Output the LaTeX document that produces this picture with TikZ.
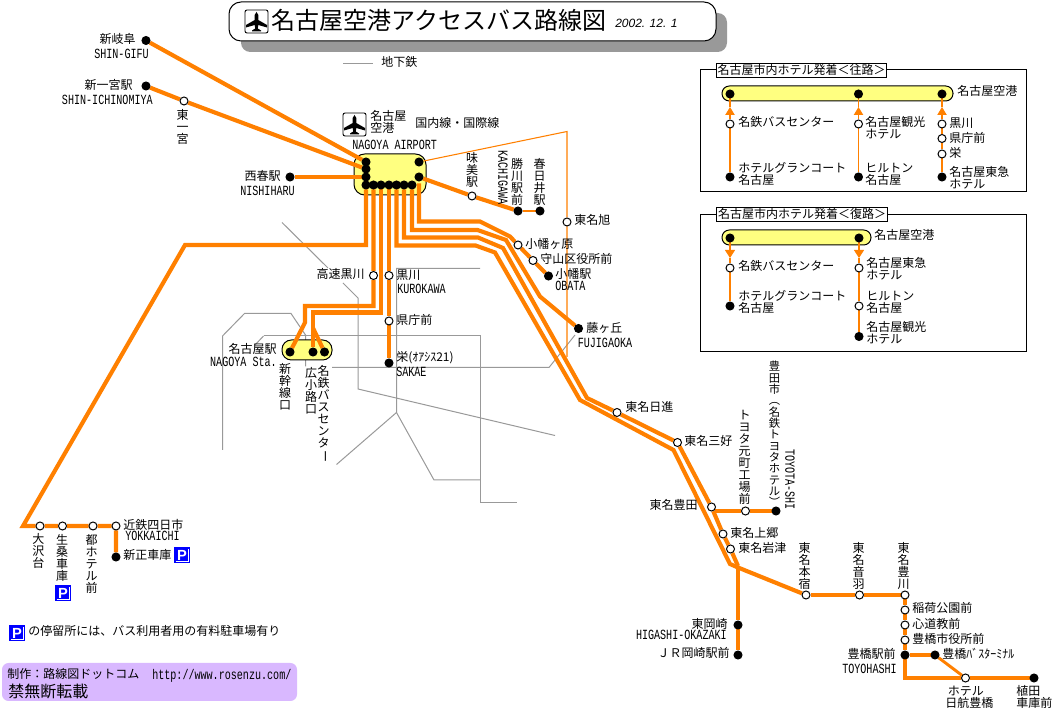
\documentclass[tikz,border=0pt]{standalone}
\usepackage{fontspec}
\setmainfont{Noto Sans CJK JP}
\setmonofont[FakeStretch=0.72]{Liberation Mono}
\newfontfamily\latinface{Liberation Sans}
\usetikzlibrary{arrows.meta,backgrounds}
\definecolor{busorange}{HTML}{FF8000}
\definecolor{padyellow}{HTML}{FFFF80}
\definecolor{subwaygray}{HTML}{999999}
\definecolor{creditpurple}{HTML}{D9B8FF}
\newcommand{\longbar}{\rotatebox[origin=c]{-90}{ー}}
\tikzset{
  stopw/.style={circle,draw=black,fill=white,line width=0.75pt,minimum size=6pt,inner sep=0pt},
  stopb/.style={circle,draw=black,fill=black,line width=0.75pt,minimum size=6pt,inner sep=0pt},
  busline/.style={draw=busorange,line width=3.1pt},
  midline/.style={draw=busorange,line width=2.2pt},
  thinline/.style={draw=busorange,line width=0.8pt},
  subway/.style={draw=subwaygray,line width=0.75pt},
  pad/.style={draw=black,fill=padyellow,line width=0.75pt,rounded corners=5.5pt},
  jp/.style={inner sep=0pt,anchor=west,text height=7.9pt,text depth=1.1pt},
  jpr/.style={jp,anchor=east},
  jptwo/.style={inner sep=0pt,anchor=west,align=left},
  en/.style={inner sep=0pt,anchor=west,font=\ttfamily\fontsize{10.5pt}{10.5pt}\selectfont,text height=6.9pt,text depth=0pt},
  enr/.style={en,anchor=east},
  vjp/.style={inner sep=0pt,anchor=north,align=center},
  panelhead/.style={draw=black,fill=white,line width=0.75pt,inner xsep=1pt,inner ysep=0pt,text height=8.4pt,text depth=2.4pt},
  parkmark/.style={fill=blue,text=white,inner sep=0pt,minimum size=11.6pt,font=\latinface\bfseries\fontsize{11pt}{11pt}\selectfont,
    path picture={\draw[white,line width=0.4pt] ([xshift=1pt,yshift=1pt]path picture bounding box.south west) -| ([xshift=-1pt,yshift=-1pt]path picture bounding box.north east);}},
  planeicon/.pic={
    \draw[black,line width=0.7pt,fill=white,rounded corners=1.5pt] (0,0) rectangle (23,23);
    \fill[black] (11.5,2) -- (13.3,5) -- (13.3,10) -- (22,15) -- (22,17.5) -- (13.3,15) -- (12.8,18.5) -- (16,20.5) -- (16,21.5)
      -- (7,21.5) -- (7,20.5) -- (10.2,18.5) -- (9.7,15) -- (1,17.5) -- (1,15) -- (9.7,10) -- (9.7,5) -- cycle;
  }
}
\begin{document}
\begin{tikzpicture}[x=0.75pt,y=-0.75pt,font=\fontsize{9pt}{9pt}\selectfont]
  \useasboundingbox (0,0) rectangle (1054,712);

  %TITLE
  \fill[subwaygray,rounded corners=7pt] (241,13) rectangle (727,52);
  \draw[fill=white,line width=0.75pt,rounded corners=9pt] (229,2) rectangle (716,41);
  \pic (titleicon) at (245,10) {planeicon};
  \node[jp,font=\fontsize{18pt}{18pt}\selectfont,text height=15.8pt,text depth=2.2pt] (titletext) at (271,20) {名古屋空港アクセスバス路線図};
  \node[inner sep=0pt,anchor=west,font=\latinface\itshape\fontsize{9pt}{9pt}\selectfont] (titledate) at (615,23) {2002. 12. 1};

  %LEGEND
  \node[jp] (subwaylabel) at (381,62) {地下鉄};
  \node[inner sep=0pt,anchor=west] (parkline) at (28,631) {の停留所には、バス利用者用の有料駐車場有り};
  \node[parkmark] (parknote) at (17,633) {P};

  %AIRPORT
  \pic (airporticon) at (343,113) {planeicon};
  \node[jptwo] (airportname) at (370,122) {名古屋\\空港};
  \node[jp] (airportlines) at (415,122.5) {国内線・国際線};
  \node[en] (airporten) at (352,144.5) {NAGOYA AIRPORT};
  \node[stopb] (apa) at (366,162) {};
  \node[stopb] (apb) at (366,169) {};
  \node[stopb] (apc) at (366,177) {};
  \node[stopb] (apd) at (366,185) {};
  \node[stopb] (ape) at (373.5,185) {};
  \node[stopb] (apf) at (381,185) {};
  \node[stopb] (apg) at (389,185) {};
  \node[stopb] (aph) at (396.5,185) {};
  \node[stopb] (api) at (404,185) {};
  \node[stopb] (apj) at (412,185) {};
  \node[stopb] (apk) at (419,162) {};
  \node[stopb] (apl) at (419,177) {};
  \coordinate (apfree) at (419,183.5);

  %NORTH
  \node[stopb] (shingifu) at (146,40.5) {};
  \node[jpr] (shingifujp) at (136,39) {新岐阜};
  \node[enr] (shingifuen) at (149,53.5) {SHIN-GIFU};
  \node[stopb] (shinichi) at (146,86) {};
  \node[jpr] (shinichijp) at (133,84.5) {新一宮駅};
  \node[enr] (shinichien) at (153,99.5) {SHIN-ICHINOMIYA};
  \node[stopw] (higashiichi) at (184,101) {};
  \node[vjp] (higashiichijp) at (182.5,109) {東\\一\\宮};
  \node[stopb] (nishiharu) at (290,177) {};
  \node[jpr] (nishiharujp) at (281,175.5) {西春駅};
  \node[enr] (nishiharuen) at (295,190.5) {NISHIHARU};

  %EAST OF AIRPORT
  \node[stopw] (ajima) at (472,196) {};
  \node[vjp] (ajimajp) at (472,152.5) {味\\美\\駅};
  \node[stopb] (kachigawa) at (518,211) {};
  \node[vjp] (kachigawajp) at (517,158) {勝\\川\\駅\\前};
  \node[en,rotate=-90] (kachigawaen) at (503,150) {KACHIGAWA};
  \node[stopb] (kasugai) at (540,211) {};
  \node[vjp] (kasugaijp) at (539.5,158) {春\\日\\井\\駅};
  \node[stopw] (asahi) at (567,222) {};
  \node[jp] (asahijp) at (574,220) {東名旭};
  \coordinate (asahiend) at (567,357);
  \node[stopw] (haragahara) at (518,245) {};
  \node[jp] (haragaharajp) at (525,243.5) {小幡ヶ原};
  \node[stopw] (moriyama) at (533,260.5) {};
  \node[jp] (moriyamajp) at (540,259) {守山区役所前};
  \node[stopb] (obata) at (548.5,276) {};
  \node[jp] (obatajp) at (555,274) {小幡駅};
  \node[en] (obataen) at (555,286) {OBATA};
  \node[stopb] (fujigaoka) at (578.5,328.5) {};
  \node[jp] (fujigaokajp) at (586,328) {藤ヶ丘};
  \node[en] (fujigaokaen) at (577.5,343) {FUJIGAOKA};

  %CITY CENTRE
  \node[stopw] (kosoku) at (373.5,275.5) {};
  \node[jpr] (kosokujp) at (365,274) {高速黒川};
  \node[stopw] (kurokawa) at (389,275.5) {};
  \node[jp] (kurokawajp) at (396,275) {黒川};
  \node[en] (kurokawaen) at (397,289) {KUROKAWA};
  \node[stopw] (kenchomae) at (389,321) {};
  \node[jp] (kenchomaejp) at (396,320) {県庁前};
  \node[stopb] (sakae) at (389,363) {};
  \node[jp] (sakaejp) at (396,357) {栄(ｵｱｼｽ21)};
  \node[en] (sakaeen) at (396,372) {SAKAE};
  \node[stopb] (shinkansen) at (290,352) {};
  \node[stopb] (hirokoji) at (313,352) {};
  \node[stopb] (meitetsu) at (324.5,352) {};
  \coordinate (hirosplit) at (313,328);
  \node[jpr] (nagoyajp) at (277,349) {名古屋駅};
  \node[enr] (nagoyaen) at (277,362) {NAGOYA Sta.};
  \node[vjp] (shinkansenjp) at (285,363.5) {新\\幹\\線\\口};
  \node[vjp] (hirokojijp) at (311,367.5) {広\\小\\路\\口};
  \node[vjp] (meitetsujp) at (323.5,365) {名\\鉄\\バ\\ス\\セ\\ン\\タ\\\longbar};

  %TOMEI
  \node[stopw] (nisshin) at (617,412.5) {};
  \node[jp] (nisshinjp) at (625,406.5) {東名日進};
  \node[stopw] (miyoshi) at (677.5,442.5) {};
  \node[jp] (miyoshijp) at (684,440.5) {東名三好};
  \node[stopw] (tmtoyota) at (711.5,507) {};
  \node[jpr] (tmtoyotajp) at (698,505) {東名豊田};
  \coordinate (toyotasplit) at (715,511);
  \node[stopw] (motomachi) at (745.5,511) {};
  \node[vjp] (motomachijp) at (744.5,410) {ト\\ヨ\\タ\\元\\町\\工\\場\\前};
  \node[stopb] (toyotashi) at (776,511) {};
  \node[vjp,font=\fontsize{8.5pt}{8.5pt}\selectfont] (toyotashijp) at (774.5,361) {豊\\田\\市\\︵\\名\\鉄\\ト\\ヨ\\タ\\ホ\\テ\\ル\\︶};
  \node[en,rotate=-90] (toyotashien) at (790,449) {TOYOTA-SHI};
  \node[stopw] (kamigo) at (723,534) {};
  \node[jp] (kamigojp) at (730,532.5) {東名上郷};
  \node[stopw] (iwazu) at (730.5,549) {};
  \node[jp] (iwazujp) at (738,548) {東名岩津};
  \coordinate (okazakisplit) at (738,566);
  \node[stopb] (higashiokazaki) at (738,625) {};
  \node[jpr] (higashiokazakijp) at (728,623.5) {東岡崎};
  \node[enr] (higashiokazakien) at (727,635) {HIGASHI-OKAZAKI};
  \node[stopb] (jrokazaki) at (738,655) {};
  \node[jpr] (jrokazakijp) at (730,653) {ＪＲ岡崎駅前};

  %TOYOHASHI
  \node[stopw] (motojuku) at (806,595) {};
  \node[vjp] (motojukujp) at (804.5,542) {東\\名\\本\\宿};
  \node[stopw] (otowa) at (859.5,595) {};
  \node[vjp] (otowajp) at (858.5,542) {東\\名\\音\\羽};
  \node[stopw] (toyokawa) at (905,595) {};
  \node[vjp] (toyokawajp) at (903.5,542) {東\\名\\豊\\川};
  \node[stopw] (inari) at (905,610) {};
  \node[jp] (inarijp) at (912,607.5) {稲荷公園前};
  \node[stopw] (shindo) at (905,625) {};
  \node[jp] (shindojp) at (912,624) {心道教前};
  \node[stopw] (shiyakusho) at (905,640) {};
  \node[jp] (shiyakushojp) at (912,639) {豊橋市役所前};
  \node[stopb] (toyohashi) at (905,655) {};
  \node[jpr] (toyohashijp) at (896,654) {豊橋駅前};
  \node[enr] (toyohashien) at (897,669) {TOYOHASHI};
  \node[stopb] (busterminal) at (935,655) {};
  \node[jp] (busterminaljp) at (942,654) {豊橋ﾊﾞｽﾀｰﾐﾅﾙ};
  \node[stopw] (nikko) at (965.5,678) {};
  \node[jptwo] (nikkojp) at (945,697) {\ ホテル\\日航豊橋};
  \node[stopb] (ueda) at (1034,678) {};
  \node[jptwo] (uedajp) at (1016,696.5) {植田\\車庫前};

  %YOKKAICHI
  \node[stopw] (osawa) at (40,526) {};
  \node[vjp] (osawajp) at (38.5,533) {大\\沢\\台};
  \node[stopw] (ikuwa) at (62.5,526) {};
  \node[vjp] (ikuwajp) at (62,534) {生\\桑\\車\\庫};
  \node[parkmark] (parkikuwa) at (63,593) {P};
  \node[stopw] (miyako) at (93,526) {};
  \node[vjp] (miyakojp) at (91.5,534) {都\\ホ\\テ\\ル\\前};
  \node[stopw] (yokkaichi) at (116,526) {};
  \node[jp] (yokkaichijp) at (123,525) {近鉄四日市};
  \node[en] (yokkaichien) at (125,536) {YOKKAICHI};
  \node[stopb] (shinsho) at (116,557) {};
  \node[jp] (shinshojp) at (123,555) {新正車庫};
  \node[parkmark] (parkshinsho) at (182,555) {P};

  %CREDIT
  \node[jp] (creditjp) at (7,673.5) {制作：路線図ドットコム};
  \node[en] (crediturl) at (152,674.5) {http://www.rosenzu.com/};
  \node[jp,font=\fontsize{12pt}{12pt}\selectfont,text height=10.5pt,text depth=1.5pt] (creditban) at (8,692) {禁無断転載};

  %PANEL OUTWARD
  \node[panelhead] (headout) at (801.5,70.5) {名古屋市内ホテル発着＜往路＞};
  \node[jp] (padoutjp) at (957,91) {名古屋空港};
  \node[stopb] (outa) at (730,94) {};
  \node[stopb] (outb) at (858.5,94) {};
  \node[stopb] (outc) at (942,94) {};
  \coordinate (outtipa) at (730,107);
  \coordinate (outtipb) at (858.5,107);
  \coordinate (outtipc) at (942,107);
  \node[stopw] (outmeitetsu) at (730,124) {};
  \node[jp] (outmeitetsujp) at (738,122) {名鉄バスセンター};
  \node[stopb] (outgrand) at (730,177) {};
  \node[jptwo] (outgrandjp) at (738,174) {ホテルグランコート\\名古屋};
  \node[stopw] (outkanko) at (858.5,124) {};
  \node[jptwo] (outkankojp) at (865,128) {名古屋観光\\ホテル};
  \node[stopb] (outhilton) at (858.5,177) {};
  \node[jptwo] (outhiltonjp) at (865,174) {ヒルトン\\名古屋};
  \node[stopw] (outkurokawa) at (942,124) {};
  \node[jp] (outkurokawajp) at (949,123) {黒川};
  \node[stopw] (outkencho) at (942,138.5) {};
  \node[jp] (outkenchojp) at (949,138) {県庁前};
  \node[stopw] (outsakae) at (942,154) {};
  \node[jp] (outsakaejp) at (949,153) {栄};
  \node[stopb] (outtokyu) at (942,177) {};
  \node[jptwo] (outtokyujp) at (949,178) {名古屋東急\\ホテル};

  %PANEL INWARD
  \node[panelhead] (headin) at (802,214.5) {名古屋市内ホテル発着＜復路＞};
  \node[jp] (padinjp) at (874,235) {名古屋空港};
  \node[stopb] (ina) at (730,238) {};
  \node[stopb] (inb) at (859,238) {};
  \coordinate (intipa) at (730,258);
  \coordinate (intipb) at (859,258);
  \node[stopw] (inmeitetsu) at (730,268) {};
  \node[jp] (inmeitetsujp) at (738,266) {名鉄バスセンター};
  \node[stopb] (ingrand) at (730,306) {};
  \node[jptwo] (ingrandjp) at (738,302) {ホテルグランコート\\名古屋};
  \node[stopw] (intokyu) at (859,268) {};
  \node[jptwo] (intokyujp) at (866,268.5) {名古屋東急\\ホテル};
  \node[stopw] (inhilton) at (859,306) {};
  \node[jptwo] (inhiltonjp) at (866,302) {ヒルトン\\名古屋};
  \node[stopb] (inkanko) at (859,336.5) {};
  \node[jptwo] (inkankojp) at (866,332.5) {名古屋観光\\ホテル};

  \begin{scope}[on background layer]
    \fill[white] (0,0) rectangle (1054,712);
    \fill[creditpurple,rounded corners=5pt] (2,663) rectangle (297,701);
    \draw[line width=0.75pt] (700,70) rectangle (1026,192);
    \draw[line width=0.75pt] (700,215) rectangle (1026,351.5);
    \draw[pad] (722,86) rectangle (953,101);
    \draw[pad] (722,230) rectangle (871,245);

    %subway
    \draw[subway] (343,63.5) -- (373,63.5);
    \draw[subway] (282,222.5) -- (328,268);
    \draw[subway] (343,283) -- (358,298) -- (358,389) -- (555,435.5);
    \draw[subway] (480,268.5) -- (396.5,268.5) -- (396.5,412.5) -- (336.5,464.5);
    \draw[subway] (396.5,412.5) -- (434,480) -- (480,480);
    \draw[subway] (263.5,336) -- (480,336) -- (480,503) -- (517,503);
    \draw[subway] (255,345) -- (263.5,336);
    \draw[subway] (222.5,450) -- (222.5,336) -- (244.5,313.5) -- (291,313.5) -- (305.5,335) -- (305.5,366.5);
    \draw[subway] (332,367.5) -- (549,367.5) -- (575,335);

    \draw[pad,rounded corners=8pt] (354,154) rectangle (426,195);
    \draw[pad,rounded corners=7pt] (282,340) rectangle (332,360);

    %routes
    \draw[thinline] (apk) -- (567,131.5) -- (asahi) -- (asahiend);
    \draw[thinline] (kachigawa) -- (kasugai);
    \draw[busline] (shingifu) -- (apa);
    \draw[busline] (shinichi) -- (higashiichi) -- (apb);
    \draw[busline] (nishiharu) -- (apc);
    \draw[busline] (apl) -- (ajima) -- (kachigawa);
    \draw[busline] (apd) -- (366,245) -- (185,245) -- (23,526) -- (osawa) -- (ikuwa) -- (miyako) -- (yokkaichi) -- (shinsho);
    \draw[busline] (ape) -- (kosoku) -- (373.5,306) -- (305,306) -- (305,322.5) -- (shinkansen);
    \draw[busline] (apf) -- (381,312.5) -- (313,312.5) -- (hirokoji);
    \draw[busline] (hirosplit) -- (meitetsu);
    \draw[busline] (apg) -- (kurokawa) -- (kenchomae) -- (sakae);
    \draw[busline] (aph) -- (396.5,245.5) -- (475.5,245.5) -- (495,252.5) -- (580,400) -- (673.5,450) -- (730,564) -- (738,567.5) -- (motojuku);
    \draw[busline] (api) -- (404,237.5) -- (478,237.5) -- (503,248) -- (587,398) -- (nisshin) -- (miyoshi) -- (tmtoyota) -- (kamigo) -- (iwazu) -- (okazakisplit);
    \draw[busline] (apj) -- (412,230) -- (477.5,230) -- (506,240) -- (540,296.5) -- (fujigaoka);
    \draw[busline] (apfree) -- (419,221.5) -- (480,221.5) -- (510,236.5) -- (haragahara) -- (moriyama) -- (obata);
    \draw[busline] (toyotasplit) -- (motomachi) -- (toyotashi);
    \draw[busline] (okazakisplit) -- (higashiokazaki) -- (jrokazaki);
    \draw[busline] (motojuku) -- (otowa) -- (toyokawa) -- (inari) -- (shindo) -- (shiyakusho) -- (toyohashi) -- (905,678) -- (nikko) -- (ueda);
    \draw[busline] (toyohashi) -- (busterminal);
    \draw[midline] (busterminal) -- (nikko);

    %airport dots joined
    \draw[line width=2.4pt] (apa) -- (apd) -- (apj);

    %panel routes
    \draw[thinline] (outgrand) -- (outmeitetsu);
    \draw[thinline,-{Triangle[length=6pt,width=7pt]}] (outmeitetsu) -- (outtipa);
    \draw[thinline] (outtipa) -- (outa);
    \draw[thinline] (outhilton) -- (outkanko);
    \draw[thinline,-{Triangle[length=6pt,width=7pt]}] (outkanko) -- (outtipb);
    \draw[thinline] (outtipb) -- (outb);
    \draw[thinline] (outtokyu) -- (outsakae) -- (outkencho) -- (outkurokawa);
    \draw[thinline,-{Triangle[length=6pt,width=7pt]}] (outkurokawa) -- (outtipc);
    \draw[thinline] (outtipc) -- (outc);
    \draw[thinline,-{Triangle[length=6pt,width=7.5pt]}] (ina) -- (intipa);
    \draw[thinline] (intipa) -- (inmeitetsu) -- (ingrand);
    \draw[thinline,-{Triangle[length=6pt,width=7.5pt]}] (inb) -- (intipb);
    \draw[thinline] (intipb) -- (intokyu) -- (inhilton) -- (inkanko);
  \end{scope}

\end{tikzpicture}
\end{document}
